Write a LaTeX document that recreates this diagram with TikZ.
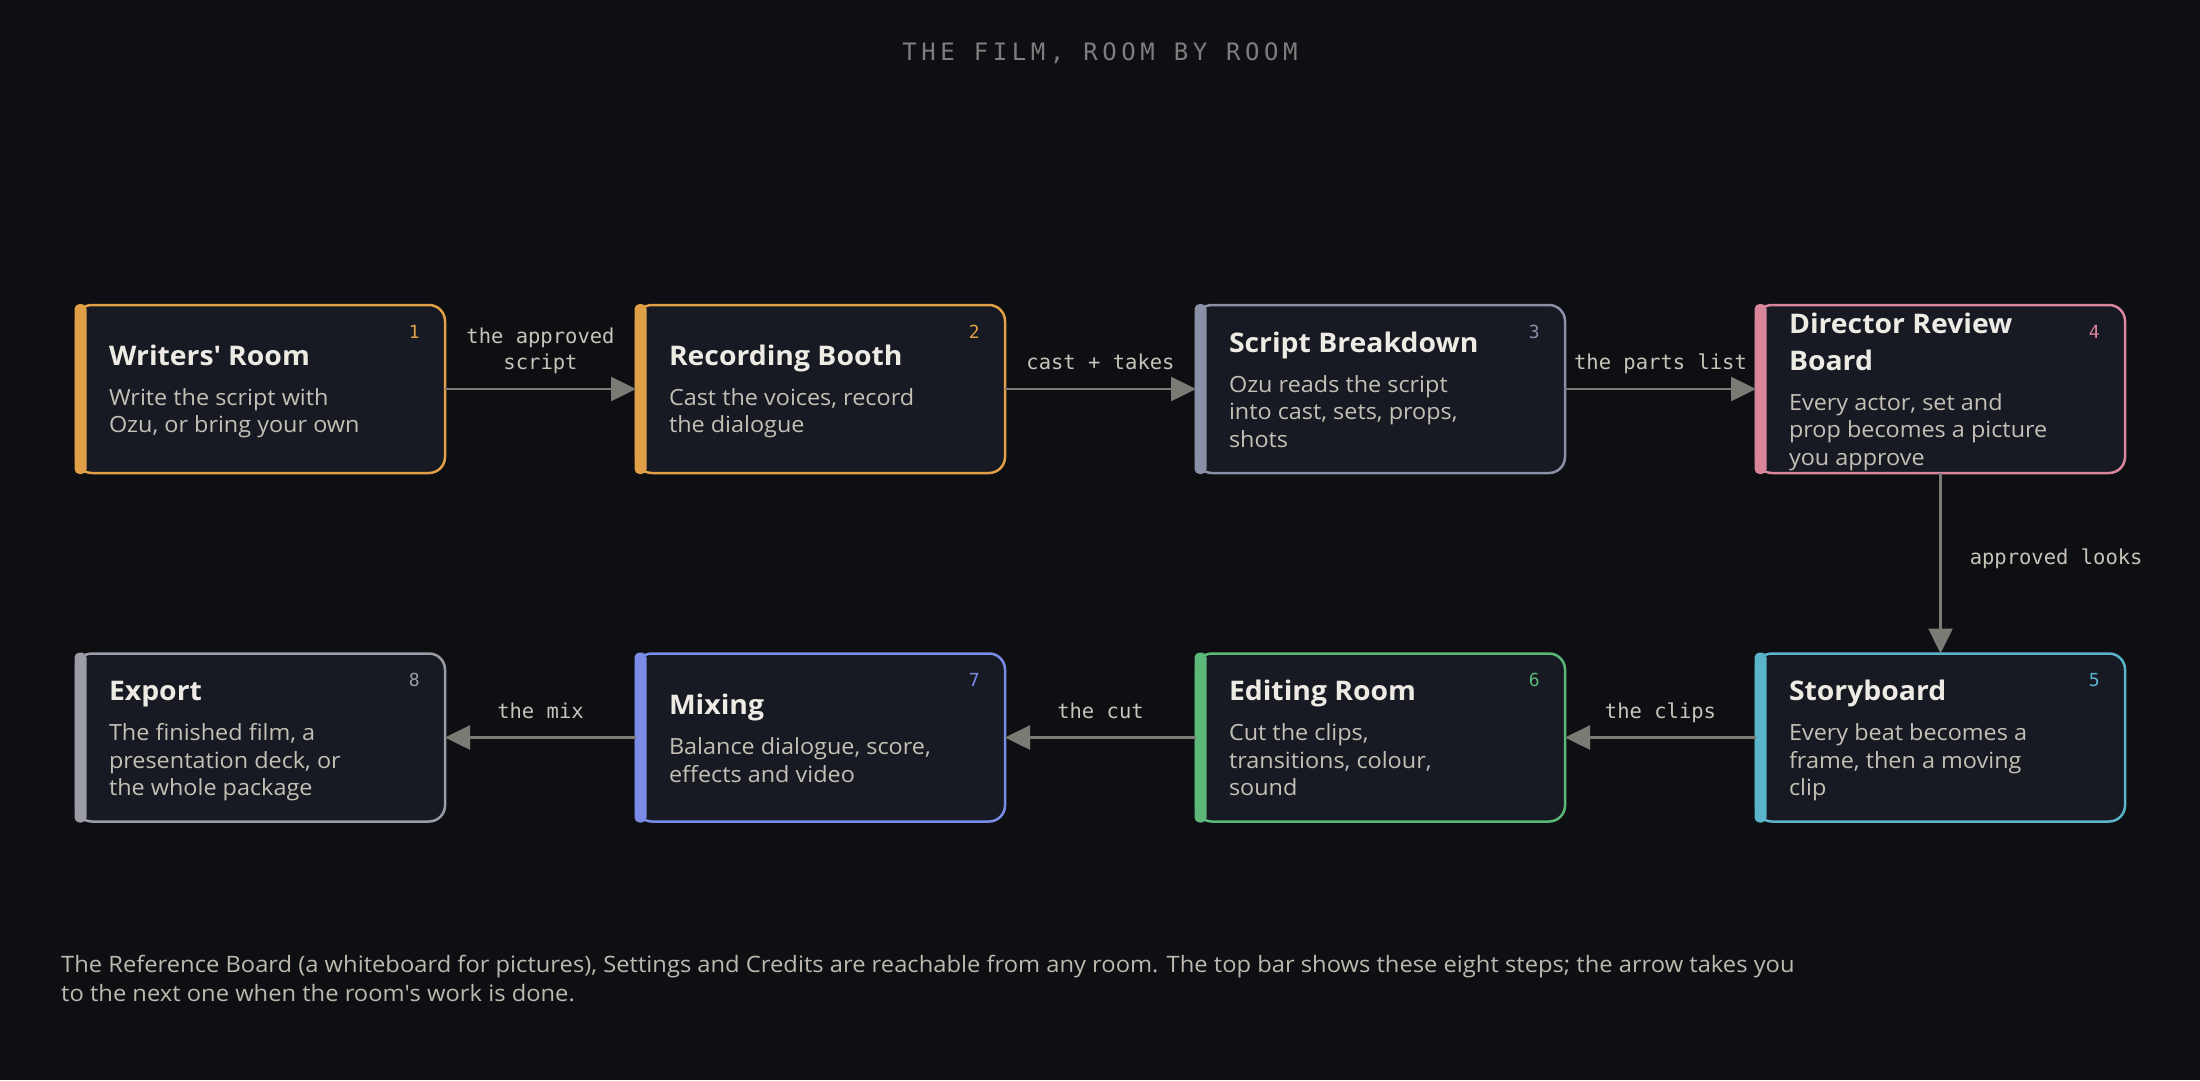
\documentclass[tikz,border=0pt]{standalone}
\usepackage{fontspec}
\setmainfont{Open Sans}[FakeStretch=1.05]
\newfontfamily\monofont{DejaVu Sans Mono}
\newfontfamily\spacedmono{DejaVu Sans Mono}[LetterSpace=19]
\usetikzlibrary{arrows.meta}
\definecolor{bg}{HTML}{0E0F13}
\definecolor{boxfill}{HTML}{171A22}
\definecolor{titlec}{HTML}{EDEBE4}
\definecolor{descc}{HTML}{C4C0B6}
\definecolor{lblc}{HTML}{C8C4BA}
\definecolor{headc}{HTML}{7E7E7E}
\definecolor{footc}{HTML}{BDB9AE}
\definecolor{connc}{HTML}{7B7B75}
\definecolor{cA}{HTML}{E0A048}
\definecolor{cB}{HTML}{E0A048}
\definecolor{cC}{HTML}{8A90A6}
\definecolor{cD}{HTML}{D9869C}
\definecolor{cE}{HTML}{5AB4CC}
\definecolor{cF}{HTML}{5CB878}
\definecolor{cG}{HTML}{7B8CE8}
\definecolor{cH}{HTML}{9C9CA6}
\newcommand\roomtxt[2]{\parbox[t]{330pt}{\raggedright\fontsize{27}{37}\selectfont\bfseries\leavevmode\color{titlec}#1\par\vspace{12.5pt}\fontsize{22.3}{27.5}\selectfont\mdseries\color{descc}#2\par}}
\tikzset{
  room/.style={rectangle, rounded corners=16pt, line width=2.5pt, fill=boxfill, minimum width=369pt, minimum height=168pt, inner sep=0pt, outer sep=0pt},
  txt/.style={anchor=base west, inner sep=0pt, outer sep=0pt},
  num/.style={anchor=base east, inner sep=0pt, font=\monofont\fontsize{18}{18}\selectfont},
  conn/.style={draw=connc, line width=2.5pt, -{Triangle[length=25pt,width=24pt]}},
  lblbase/.style={inner sep=0pt, text=lblc, font=\monofont\fontsize{20.5}{26}\selectfont},
  lblh/.style={lblbase, anchor=base, yshift=19.5pt},
}
\begin{document}
\begin{tikzpicture}[x=1pt,y=-1pt]
\fill[bg] (0,0) rectangle (2200,1080);
\useasboundingbox (0,0) rectangle (2200,1080);
\node[anchor=base, inner sep=0pt, text=headc, font=\spacedmono\fontsize{24}{28}\selectfont] (head) at (1100,60) {THE FILM, ROOM BY ROOM};
% boxes
\node[room, draw=cA] (b1) at (260.5,389) {};
\node[room, draw=cB] (b2) at (820.5,389) {};
\node[room, draw=cC] (b3) at (1380.5,389) {};
\node[room, draw=cD] (b4) at (1940.5,389) {};
\node[room, draw=cE] (b5) at (1940.5,737.5) {};
\node[room, draw=cF] (b6) at (1380.5,737.5) {};
\node[room, draw=cG] (b7) at (820.5,737.5) {};
\node[room, draw=cH] (b8) at (260.5,737.5) {};
% accent bars
\foreach \b/\c in {b1/cA,b2/cB,b3/cC,b4/cD,b5/cE,b6/cF,b7/cG,b8/cH}{
  \fill[\c, rounded corners=5pt] ([xshift=-1.5pt,yshift=1pt]\b.north west) rectangle ([xshift=10.5pt,yshift=-1pt]\b.south west);
}
% texts
\node[txt] (t1) at ([shift={(33,60)}]b1.north west) {\roomtxt{Writers\textquotesingle{} Room}{Write the script with\\Ozu, or bring your own}};
\node[txt] (t2) at ([shift={(33,60)}]b2.north west) {\roomtxt{Recording Booth}{Cast the voices, record\\the dialogue}};
\node[txt] (t3) at ([shift={(33,47)}]b3.north west) {\roomtxt{Script Breakdown}{Ozu reads the script\\into cast, sets, props,\\shots}};
\node[txt] (t4) at ([shift={(33,28)}]b4.north west) {\roomtxt{Director Review\\Board}{Every actor, set and\\prop becomes a picture\\you approve}};
\node[txt] (t5) at ([shift={(33,47)}]b5.north west) {\roomtxt{Storyboard}{Every beat becomes a\\frame, then a moving\\clip}};
\node[txt] (t6) at ([shift={(33,47)}]b6.north west) {\roomtxt{Editing Room}{Cut the clips,\\transitions, colour,\\sound}};
\node[txt] (t7) at ([shift={(33,61)}]b7.north west) {\roomtxt{Mixing}{Balance dialogue, score,\\effects and video}};
\node[txt] (t8) at ([shift={(33,47)}]b8.north west) {\roomtxt{Export}{The finished film, a\\presentation deck, or\\the whole package}};
% numbers
\node[num, text=cA] (n1) at ([shift={(-25,33)}]b1.north east) {1};
\node[num, text=cB] (n2) at ([shift={(-25,33)}]b2.north east) {2};
\node[num, text=cC] (n3) at ([shift={(-25,33)}]b3.north east) {3};
\node[num, text=cD] (n4) at ([shift={(-25,33)}]b4.north east) {4};
\node[num, text=cE] (n5) at ([shift={(-25,33)}]b5.north east) {5};
\node[num, text=cF] (n6) at ([shift={(-25,33)}]b6.north east) {6};
\node[num, text=cG] (n7) at ([shift={(-25,33)}]b7.north east) {7};
\node[num, text=cH] (n8) at ([shift={(-25,33)}]b8.north east) {8};
% connectors
\draw[conn] (b1) -- node[lblh] (l1) {\parbox[b]{200pt}{\centering the approved\\script}} (b2);
\draw[conn] (b2) -- node[lblh] (l2) {cast + takes} (b3);
\draw[conn] (b3) -- node[lblh] (l3) {the parts list} (b4);
\draw[conn] (b4) -- node[lblbase, anchor=base west, xshift=28pt, yshift=-1pt] (l4) {approved looks} (b5);
\draw[conn] (b5) -- node[lblh] (l5) {the clips} (b6);
\draw[conn] (b6) -- node[lblh] (l6) {the cut} (b7);
\draw[conn] (b7) -- node[lblh] (l7) {the mix} (b8);
% footer
\node[anchor=base west, inner sep=0pt, text=footc, font=\fontsize{22.6}{29}\selectfont] (foot) at (61,972) {\parbox[t]{2000pt}{\leavevmode The Reference Board (a whiteboard for pictures), Settings and Credits are reachable from any room. The top bar shows these eight steps; the arrow takes you\\to the next one when the room\textquotesingle{}s work is done.}};
\end{tikzpicture}
\end{document}
